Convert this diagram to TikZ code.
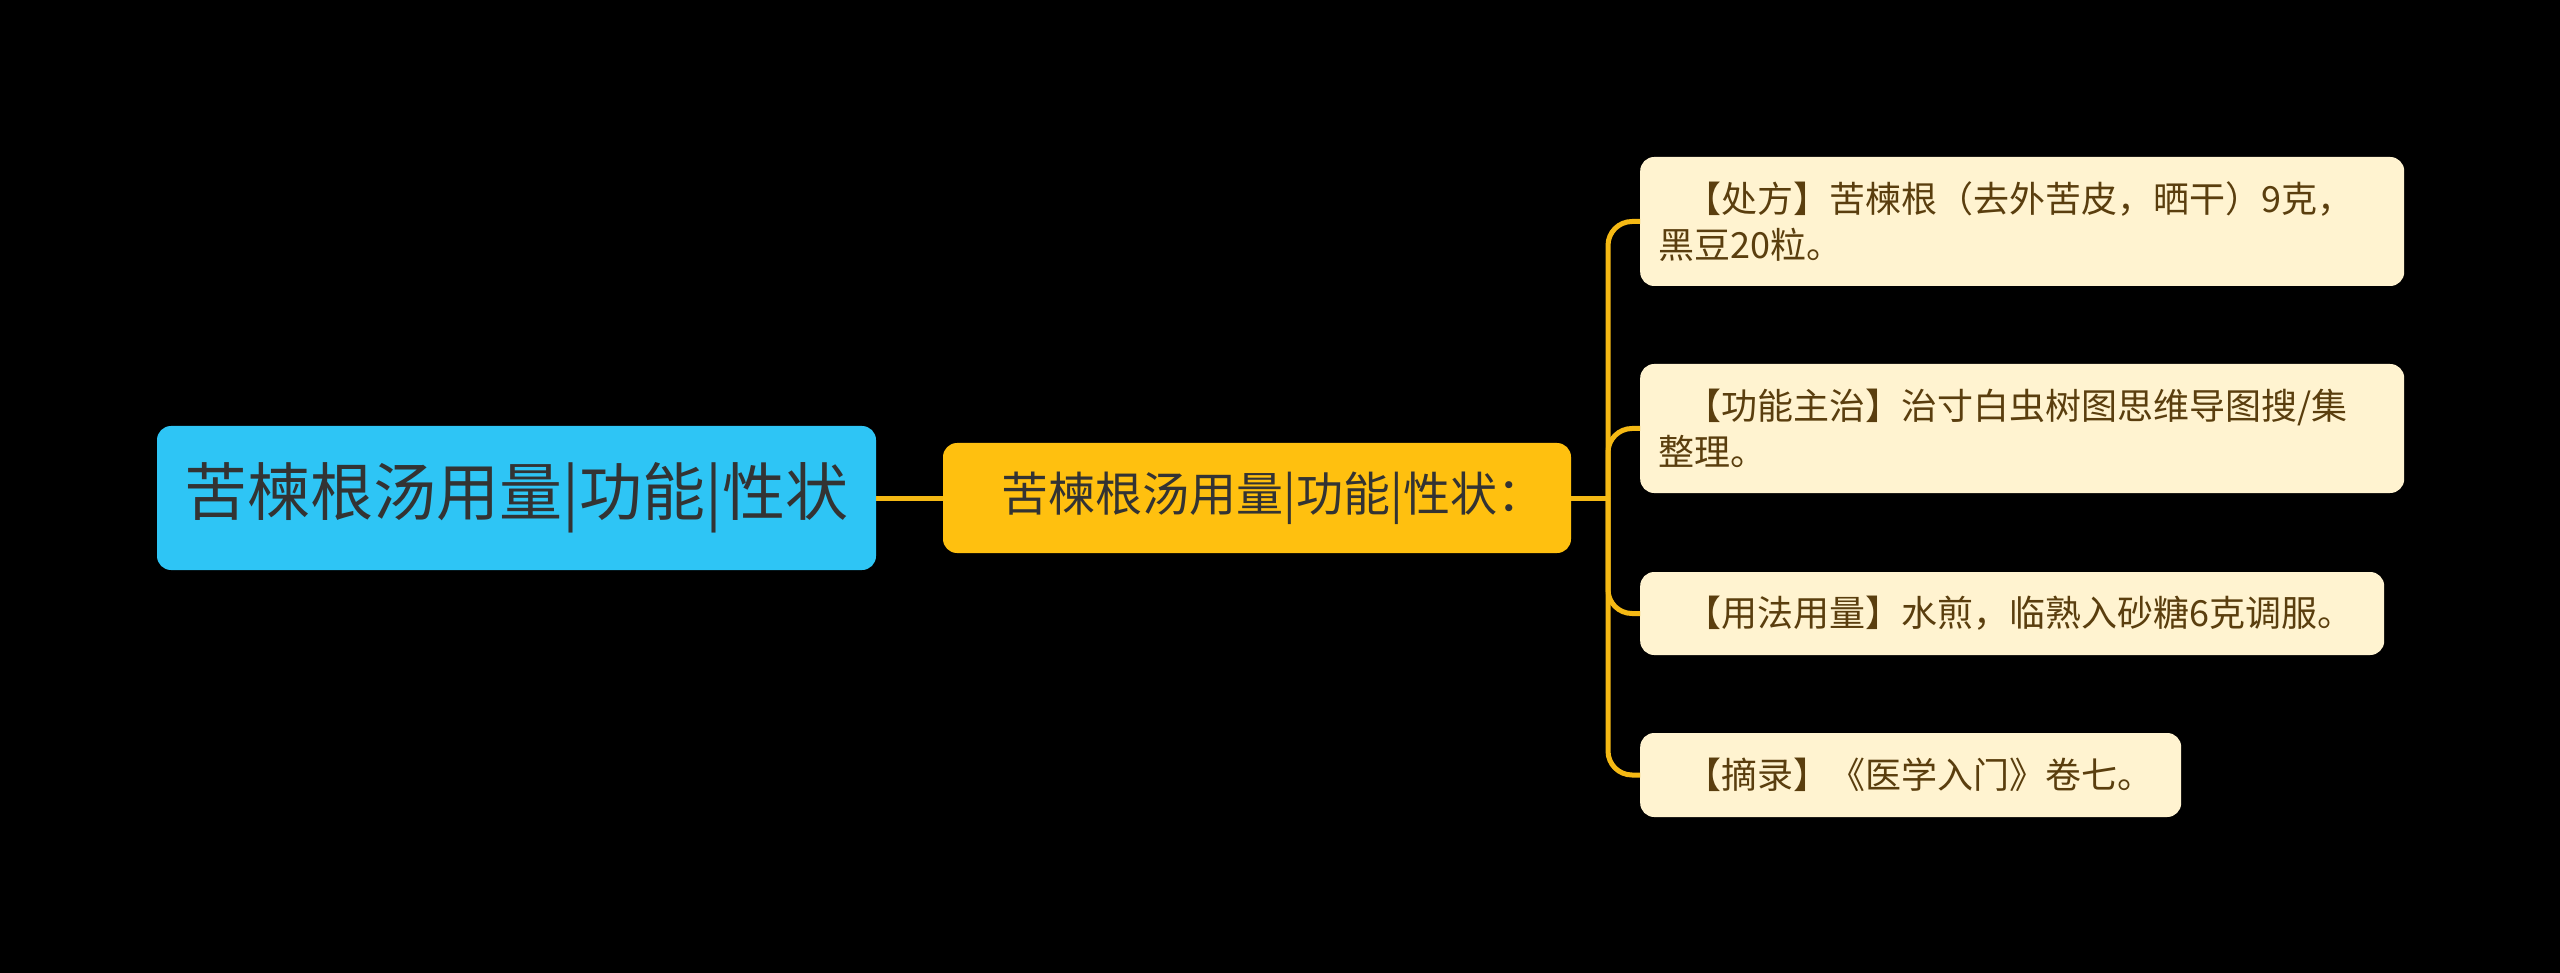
\documentclass[tikz,border=0pt]{standalone}
\usepackage{fontspec}
\setmainfont{Noto Sans CJK SC}
\definecolor{bg}{RGB}{0,0,0}
\definecolor{rootfill}{RGB}{46,197,245}
\definecolor{midfill}{RGB}{255,192,15}
\definecolor{leaffill}{RGB}{255,243,208}
\definecolor{linec}{RGB}{245,185,20}
\definecolor{darktext}{RGB}{51,51,51}
\definecolor{leaftext}{RGB}{90,62,14}
\begin{document}
\begin{tikzpicture}[x=1pt,y=-1pt,
  rootbox/.style={fill=rootfill, rounded corners=14pt, minimum width=719pt, minimum height=144pt, inner sep=0pt, text=darktext, font=\fontsize{63}{76}\selectfont},
  midbox/.style={fill=midfill, rounded corners=14pt, minimum width=628pt, minimum height=110pt, inner sep=0pt, text=darktext, font=\fontsize{47}{56}\selectfont},
  leafbox/.style={fill=leaffill, rounded corners=14pt, anchor=west, inner xsep=18pt, inner ysep=0pt, align=left, text=leaftext, font=\fontsize{36}{46}\selectfont},
  conn/.style={draw=linec, line width=5pt},
  branch/.style={conn, rounded corners=24pt}
]
\fill[bg] (0,0) rectangle (2560,973);
\useasboundingbox (0,0) rectangle (2560,973);

\node[rootbox] (root) at (516.5,498) {苦楝根汤用量|功能|性状};
\node[midbox] (mid) at (1257,498) {\hspace*{32pt}苦楝根汤用量|功能|性状：};

\node[leafbox, text width=728pt, minimum height=129pt] (l1) at (1640,221.5) {\hspace*{27pt}【处方】苦楝根（去外苦皮，晒干）9克，\\黑豆20粒。};
\node[leafbox, text width=728pt, minimum height=129pt] (l2) at (1640,428.5) {\hspace*{27pt}【功能主治】治寸白虫树图思维导图搜/集\\整理。};
\node[leafbox, text width=708pt, minimum height=83pt] (l3) at (1640,613.5) {\hspace*{27pt}【用法用量】水煎，临熟入砂糖6克调服。};
\node[leafbox, text width=505pt, minimum height=84pt] (l4) at (1640,775) {\hspace*{27pt}【摘录】《医学入门》卷七。};

\coordinate (j) at (1608,498);
\draw[conn] (root.east) -- (mid.west);
\draw[conn] (mid.east) -- (j);
\draw[branch] (j) |- (l1.west);
\draw[branch] (j) |- (l2.west);
\draw[branch] (j) |- (l3.west);
\draw[branch] (j) |- (l4.west);
\end{tikzpicture}
\end{document}
